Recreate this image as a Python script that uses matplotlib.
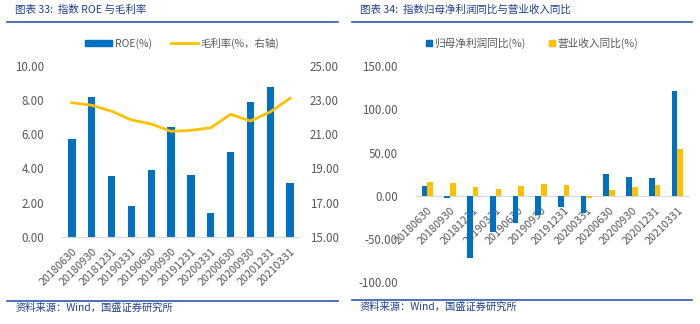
import numpy as np
import matplotlib
matplotlib.use('Agg')
import matplotlib.pyplot as plt
from matplotlib.patches import Rectangle
from matplotlib.lines import Line2D

plt.rcParams['font.family'] = ['Noto Sans CJK SC', 'DejaVu Sans']
plt.rcParams['axes.unicode_minus'] = False

# Report dates shared by both panels
dates = ['20180630', '20180930', '20181231', '20190331', '20190630', '20190930',
         '20191231', '20200331', '20200630', '20200930', '20201231', '20210331']

# Left panel: ROE (%) and gross margin (%, right axis)
roe = [5.71, 8.17, 3.57, 1.80, 3.89, 6.41, 3.63, 1.41, 4.94, 7.91, 8.79, 3.13]
gross_margin = [22.85, 22.70, 22.35, 21.84, 21.60, 21.17, 21.23, 21.38, 22.17, 21.78, 22.31, 23.11]

# Right panel: YoY growth of net profit attributable to parent and revenue (%)
profit_yoy = [11.2, -2.5, -71.6, -41.8, -31.9, -21.9, -13.4, -20.0, 25.4, 21.2, 20.4, 120.8]
revenue_yoy = [16.2, 14.2, 9.6, 8.1, 11.2, 13.5, 11.9, -2.3, 6.5, 10.4, 11.9, 54.2]

BLUE = '#0070C0'
GOLD = '#FFC000'
TXT = '#595959'
NAVY = '#1F3F8F'
RULE = '#2E5AA8'
AXIS = '#D9D9D9'

W, H = 700, 324
fig = plt.figure(figsize=(W / 100, H / 100), dpi=100)


def box(x0, y0, x1, y1):
    # pixel box (top-left origin) -> figure fraction rect
    return [x0 / W, 1 - y1 / H, (x1 - x0) / W, (y1 - y0) / H]


def header(x_text, x0, x1, title):
    fig.text(x_text / W, 1 - 10 / H, title, color=NAVY, fontsize=7.6,
             style='italic', va='center', ha='left')
    fig.add_artist(Line2D([x0 / W, x1 / W], [1 - 21.5 / H] * 2, color=RULE, lw=1.2))


def footer(x_text, x0, x1, y_line):
    fig.add_artist(Line2D([x0 / W, x1 / W], [1 - y_line / H] * 2, color=RULE, lw=1.2))
    fig.text(x_text / W, 1 - (y_line + 7.5) / H, '资料来源：Wind，国盛证券研究所',
             color=NAVY, fontsize=7.4, style='italic', va='center', ha='left')


def style_ticks(ax):
    for lab in ax.get_xticklabels():
        lab.set_rotation(45)
        lab.set_ha('right')
        lab.set_va('top')
        lab.set_rotation_mode('anchor')
    ax.tick_params(axis='both', length=0, colors=TXT, labelsize=8.3)
    ax.tick_params(axis='x', labelsize=7.8)


# ---- left panel ----
header(15, 7, 338, '图表 33:  指数 ROE 与毛利率')
x = np.arange(len(dates))

ax1 = fig.add_axes(box(62, 66, 300, 236.7))
ax1.bar(x, roe, width=0.37, color=BLUE, label='ROE(%)', zorder=2)
ax1.set_xlim(-0.5, len(dates) - 0.5)
ax1.set_ylim(0, 10)
ax1.set_yticks(np.arange(0, 10.01, 2))
ax1.set_yticklabels([f'{v:.2f}' for v in np.arange(0, 10.01, 2)])
ax1.set_xticks(x)
ax1.set_xticklabels(dates)
for s in ['top', 'left', 'right']:
    ax1.spines[s].set_visible(False)
ax1.spines['bottom'].set_color(AXIS)
ax1.tick_params(axis='y', pad=13)
ax1.tick_params(axis='x', pad=7)
style_ticks(ax1)

ax1r = ax1.twinx()
ax1r.plot(x, gross_margin, color=GOLD, lw=2, label='毛利率(%，右轴)', zorder=3)
ax1r.set_ylim(15, 25)
ax1r.set_yticks(np.arange(15, 25.01, 2))
ax1r.set_yticklabels([f'{v:.2f}' for v in np.arange(15, 25.01, 2)])
for s in ax1r.spines.values():
    s.set_visible(False)
ax1r.tick_params(axis='y', length=0, colors=TXT, labelsize=8.3, pad=7)

h1 = [Rectangle((0, 0), 1, 1, color=BLUE), Line2D([0], [0], color=GOLD, lw=2)]
fig.legend(h1, ['ROE(%)', '毛利率(%，右轴)'], loc='center', bbox_to_anchor=(182 / W, 1 - 43 / H),
           ncol=2, frameon=False, fontsize=7.5, labelcolor=TXT, handlelength=2.6,
           handleheight=0.45, columnspacing=1.8, handletextpad=0.3)

footer(15, 7, 338, 300.5)

# ---- right panel ----
header(360, 352, 692, '图表 34:  指数归母净利润同比与营业收入同比')

ax2 = fig.add_axes(box(416, 66, 688.7, 282.3))
bw = 0.25
ax2.bar(x - bw / 2, profit_yoy, width=bw, color=BLUE, zorder=2)
ax2.bar(x + bw / 2, revenue_yoy, width=bw, color=GOLD, zorder=2)
ax2.set_xlim(-0.5, len(dates) - 0.5)
ax2.set_ylim(-100, 150)
ticks2 = np.arange(-100, 150.01, 50)
ax2.set_yticks(ticks2)
ax2.set_yticklabels([f'{v:.2f}' for v in ticks2])
ax2.set_xticks(x)
ax2.set_xticklabels(dates)
for s in ['top', 'left', 'right']:
    ax2.spines[s].set_visible(False)
ax2.spines['bottom'].set_position(('data', 0))
ax2.spines['bottom'].set_color(AXIS)
ax2.spines['bottom'].set_zorder(1)
ax2.tick_params(axis='y', pad=13)
ax2.tick_params(axis='x', pad=7)
style_ticks(ax2)
for lab in ax2.get_xticklabels():
    lab.set_zorder(3)

h2 = [Rectangle((0, 0), 1, 1, color=BLUE), Rectangle((0, 0), 1, 1, color=GOLD)]
fig.legend(h2, ['归母净利润同比(%)', '营业收入同比(%)'], loc='center',
           bbox_to_anchor=(532 / W, 1 - 43 / H), ncol=2, frameon=False, fontsize=7.7,
           labelcolor=TXT, handlelength=0.6, handleheight=0.6, columnspacing=2.2,
           handletextpad=0.2)

footer(360, 352, 692, 299.5)

fig.savefig('out.png', dpi=100)
